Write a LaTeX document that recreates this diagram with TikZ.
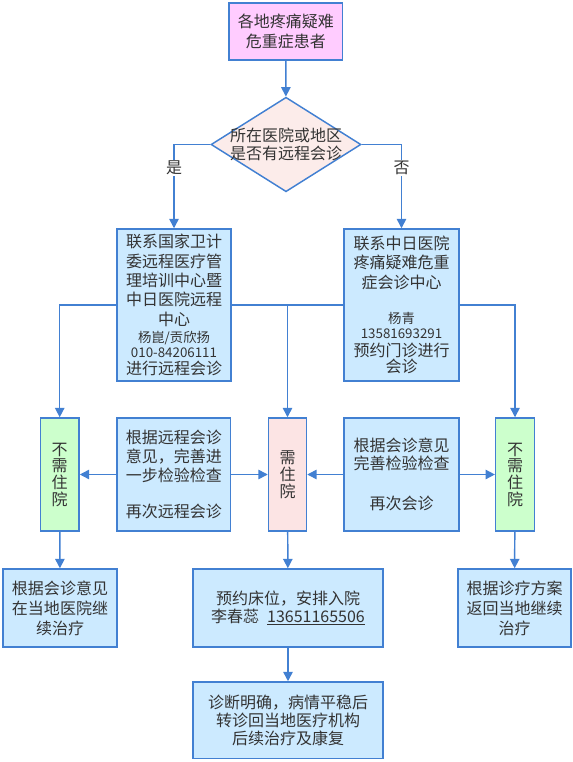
\documentclass[tikz,border=0pt]{standalone}
\usepackage{fontspec}
\setmainfont{Noto Sans CJK SC}
\usepackage{tikz}
\usetikzlibrary{arrows.meta,shapes.geometric}

\definecolor{edgeblue}{RGB}{66,128,210}
\definecolor{cellblue}{RGB}{204,234,255}
\definecolor{cellgreen}{RGB}{204,255,204}
\definecolor{cellpink}{RGB}{252,228,228}
\definecolor{cellviolet}{RGB}{255,204,255}
\definecolor{cellrose}{RGB}{252,236,234}

\tikzset{
  every node/.style={text=black!80, font=\fontsize{12}{14.5}\selectfont},
  stepbox/.style={draw=edgeblue, line width=1.1pt, fill=cellblue, align=center, inner sep=0pt},
  staybox/.style={stepbox, fill=cellgreen, minimum width=29pt, minimum height=84.75pt},
  flow/.style={draw=edgeblue, line width=1.1pt, -{Triangle[width=7pt,length=7pt]}},
  link/.style={draw=edgeblue, line width=1.1pt},
  yesno/.style={fill=white, inner sep=1pt}
}

\begin{document}
\begin{tikzpicture}[x=0.75pt,y=0.75pt,yscale=-1,xscale=1]
        \useasboundingbox (0,0) rectangle (573,762);
        % top and decision
        \node (start) at (285.75,31.5) [stepbox, fill=cellviolet, minimum width=85pt, minimum height=42.75pt] {各地疼痛疑难\\危重症患者};
        \node (ask) at (286,144.5) [diamond, draw=edgeblue, line width=1.1pt, fill=cellrose, minimum width=112.5pt, minimum height=70.9pt, inner sep=0pt] {};
        \node (asktext) at (ask.center) [align=center, font=\fontsize{12}{13.3}\selectfont] {所在医院或地区\\是否有远程会诊};
        % consultation centres
        \node (nhc) at (174,305) [stepbox, minimum width=85.5pt, minimum height=114pt] {联系国家卫计\\委远程医疗管\\理培训中心暨\\中日医院远程\\中心\\[-1.3pt]{\fontsize{10}{12}\selectfont 杨崑/贡欣扬}\\[-3.3pt]{\fontsize{10}{12}\selectfont 010-84206111}\\[-2pt]进行远程会诊};
        \node (cjh) at (401.5,305) [stepbox, minimum width=86.25pt, minimum height=114pt] {联系中日医院\\疼痛疑难危重\\症会诊中心\\[12pt]{\fontsize{10}{12}\selectfont 杨青}\\[-3.5pt]{\fontsize{10}{12}\selectfont 13581693291}\\[-0.8pt]预约门诊进行\\[-2pt]会诊};
        % middle row
        \node (noA) at (59.7,474.5) [staybox, font=\fontsize{12}{12.5}\selectfont] {不\\需\\住\\院};
        \node (recA) at (173.8,474.5) [stepbox, minimum width=85.2pt, minimum height=84.75pt] {根据远程会诊\\意见，完善进\\一步检验检查\\[12.5pt]再次远程会诊};
        \node (need) at (287.5,474.5) [staybox, fill=cellpink, minimum width=28.5pt, font=\fontsize{12}{12.8}\selectfont] {需\\住\\院};
        \node (recB) at (401.5,474.5) [stepbox, minimum width=86.25pt, minimum height=84.75pt, font=\fontsize{12}{13.7}\selectfont] {根据会诊意见\\完善检验检查\\[16pt]再次会诊};
        \node (noB) at (515,474.5) [staybox, font=\fontsize{12}{12.5}\selectfont] {不\\需\\住\\院};
        % bottom rows
        \node (localA) at (60,608) [stepbox, minimum width=85.5pt, minimum height=58.5pt, font=\fontsize{12}{15}\selectfont] {根据会诊意见\\在当地医院继\\续治疗};
        \node (bed) at (288,608) [stepbox, minimum width=142.5pt, minimum height=58.5pt, font=\fontsize{12}{13.7}\selectfont] {预约床位，安排入院\\李春蕊\hspace{6pt}\underline{13651165506}};
        \node (localB) at (514.5,608) [stepbox, minimum width=84.75pt, minimum height=58.5pt, font=\fontsize{12}{15}\selectfont] {根据诊疗方案\\返回当地继续\\治疗};
        \node (final) at (288,720.3) [stepbox, minimum width=142.5pt, minimum height=57.5pt, font=\fontsize{12}{13.7}\selectfont] {诊断明确，病情平稳后\\转诊回当地医疗机构\\后续治疗及康复};

        \draw [flow] (start) -- (ask);
        \draw [flow] (ask.west) -| node [yesno, pos=0.64] {是} (nhc.north);
        \draw [flow] (ask.east) -| node [yesno, pos=0.64] {否} (cjh.north);
        \draw [flow] (nhc.west) -| (noA.north);
        \draw [flow] (nhc.east) -| (need.north);
        \draw [link] (cjh.west) -- (need.north |- cjh.west);
        \draw [flow] (cjh.east) -| (noB.north);
        \draw [flow] (recA) -- (noA);
        \draw [flow] (recA) -- (need);
        \draw [flow] (recB) -- (need);
        \draw [flow] (recB) -- (noB);
        \draw [flow] (noA) -- (localA);
        \draw [flow] (need) -- (bed);
        \draw [flow] (noB) -- (localB);
        \draw [flow] (bed) -- (final);
    \end{tikzpicture}
\end{document}
